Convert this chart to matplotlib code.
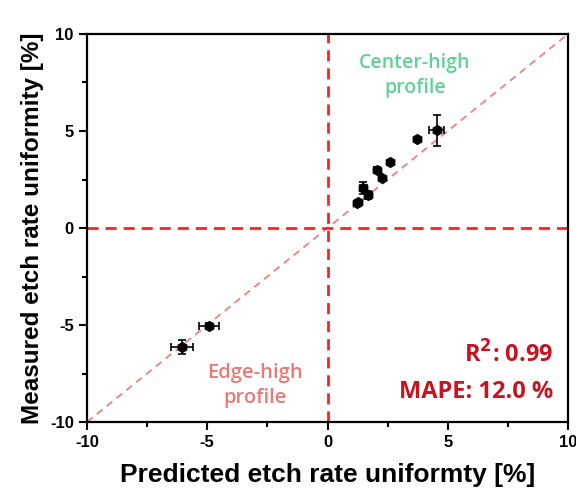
import numpy as np
import matplotlib.pyplot as plt
from matplotlib.ticker import MultipleLocator

plt.rcParams['font.family'] = ['Liberation Sans', 'DejaVu Sans']
plt.rcParams['axes.unicode_minus'] = False

# predicted vs measured etch rate uniformity [%]
pred = [4.54, 3.71, 2.60, 2.05, 2.28, 1.49, 1.70, 1.28, 1.21, -4.93, -6.06]
meas = [5.05, 4.59, 3.39, 2.99, 2.56, 2.05, 1.70, 1.36, 1.27, -5.05, -6.12]
xerr = [0.30, 0.0, 0.0, 0.10, 0.0, 0.15, 0.15, 0.0, 0.0, 0.42, 0.45]
yerr = [0.80, 0.0, 0.0, 0.15, 0.0, 0.30, 0.20, 0.0, 0.0, 0.15, 0.35]

fig = plt.figure(figsize=(5.76, 5.0), dpi=100)
ax = fig.add_axes([87/576, 78/500, 481/576, 388/500])

ax.plot([-10, 10], [-10, 10], ls=(0, (4, 3)), color='#f08080', lw=1.3, zorder=1)
ax.axvline(0, ls=(0, (4, 2.5)), color='#ff2020', lw=2, zorder=1)
ax.axhline(0, ls=(0, (4, 2.5)), color='#ff2020', lw=2, zorder=1)

ax.errorbar(pred, meas, xerr=xerr, yerr=yerr, fmt='h', color='black', ms=7,
            ecolor='black', elinewidth=1.2, capsize=3, capthick=1.2, zorder=3)

ax.set_xlim(-10, 10)
ax.set_ylim(-10, 10)
ax.xaxis.set_major_locator(MultipleLocator(5))
ax.yaxis.set_major_locator(MultipleLocator(5))
ax.xaxis.set_minor_locator(MultipleLocator(2.5))
ax.yaxis.set_minor_locator(MultipleLocator(2.5))
ax.tick_params(which='major', direction='out', length=6, width=1.5, labelsize=12)
ax.tick_params(which='minor', direction='out', length=3.5, width=1.5)
for lab in ax.get_xticklabels() + ax.get_yticklabels():
    lab.set_fontweight('bold')
for sp in ax.spines.values():
    sp.set_linewidth(1.6)

ax.set_xlabel('Predicted etch rate uniformty [%]', fontsize=19, fontweight='bold', labelpad=9)
ax.set_ylabel('Measured etch rate uniformity [%]', fontsize=17.5, fontweight='bold', labelpad=4)

txt = ['Open Sans', 'DejaVu Sans']
ax.text(3.64, 7.85, 'Center-high\nprofile', color='#5ed394', fontsize=14, fontweight='semibold',
        ha='center', va='center', family=txt, linespacing=1.35)
ax.text(-3.0, -8.1, 'Edge-high\nprofile', color='#e87a7a', fontsize=14.5, fontweight='semibold',
        ha='center', va='center', family=txt, linespacing=1.35)
ax.text(9.4, -6.55, 'R$^\\mathbf{2}$: 0.99', color='#c81420', fontsize=17, fontweight='bold',
        ha='right', va='center', family=txt)
ax.text(9.4, -8.45, 'MAPE: 12.0 %', color='#c81420', fontsize=17, fontweight='bold',
        ha='right', va='center', family=txt)

fig.savefig('out.png', dpi=100)
